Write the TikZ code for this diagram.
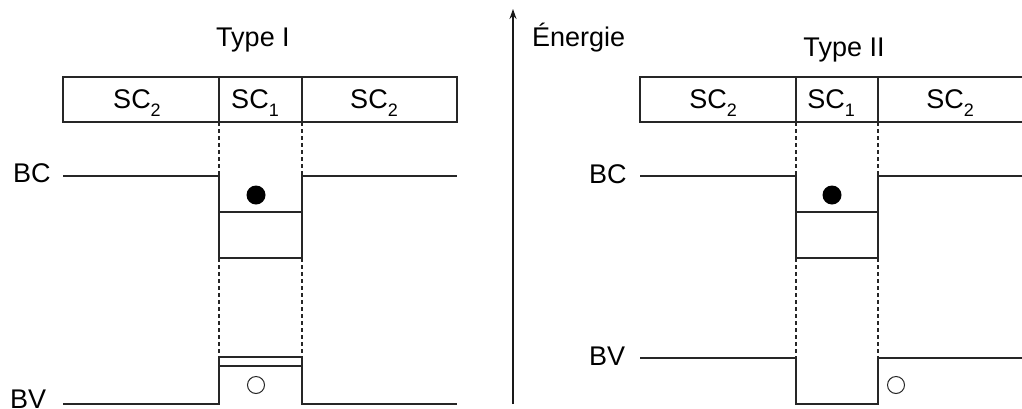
\documentclass[tikz,border=0pt]{standalone}
\usepackage{fontspec}
\setmainfont{Liberation Sans}
\usetikzlibrary{arrows.meta}
\newcommand{\mysub}[1]{\raisebox{-0.3em}{\fontsize{18}{18}\selectfont #1}}
\begin{document}
\begin{tikzpicture}[x=1pt,y=-1pt,
  band/.style={line width=1.5pt, line join=miter, draw=black!85},
  guide/.style={line width=1.1pt, dash pattern=on 4pt off 3pt, draw=black!85},
  lbl/.style={font=\fontsize{27}{32}\selectfont, inner sep=0pt, anchor=base west},
  sclbl/.style={font=\fontsize{27}{32}\selectfont, inner sep=0pt, anchor=base},
  ttl/.style={font=\fontsize{27}{32}\selectfont, inner sep=0pt, anchor=base},
  hole/.style={line width=1pt, draw=black!85}]
\useasboundingbox (0,0) rectangle (1022,408);
\clip (0,0) rectangle (1022,408);
\fill[white] (0,0) rectangle (1022,408);

% ---------- Type I ----------
\node[ttl] (t1) at (253,46) {Type I};
\draw[band] (63,77) rectangle (457,122);
\draw[band] (219,77) -- (219,122) (302,77) -- (302,122);
\node[sclbl] (a1) at (137,108) {SC\mysub{2}};
\node[sclbl] (a2) at (255,108) {SC\mysub{1}};
\node[sclbl] (a3) at (374,108) {SC\mysub{2}};
\node[lbl] (bc1) at (13,182) {BC};
\node[lbl] (bv1) at (10,408) {BV};
\draw[band] (63,176) -- (219,176) -- (219,258) -- (302,258) -- (302,176) -- (457,176);
\draw[band] (219,212) -- (302,212);
\draw[guide] (219,122) -- (219,176) (302,122) -- (302,176)
             (219,258) -- (219,357) (302,258) -- (302,357);
\draw[band] (63,404) -- (219,404) -- (219,357) -- (302,357) -- (302,404) -- (457,404);
\draw[band] (219,366) -- (302,366);
\fill (256,195) circle (9.5pt);
\draw[hole] (256,385) circle (8.5pt);

% ---------- energy axis ----------
\coordinate (e0) at (513,404);
\coordinate (e1) at (513,9);
\draw[line width=1.3pt, draw=black!90, -{Stealth[length=10pt,width=7pt]}] (e0) -- (e1);
\node[lbl] (en) at (532,46) {Énergie};

% ---------- Type II ----------
\node[ttl] (t2) at (844,56) {Type II};
\draw[band] (640,77) rectangle (1040,122);
\draw[band] (796,77) -- (796,122) (878,77) -- (878,122);
\node[sclbl] (b1) at (713,108) {SC\mysub{2}};
\node[sclbl] (b2) at (831,108) {SC\mysub{1}};
\node[sclbl] (b3) at (950,108) {SC\mysub{2}};
\node[lbl] (bc2) at (589,183) {BC};
\node[lbl] (bv2) at (589,365) {BV};
\draw[band] (640,176) -- (796,176) -- (796,258) -- (878,258) -- (878,176) -- (1030,176);
\draw[band] (796,212) -- (878,212);
\draw[guide] (796,122) -- (796,176) (878,122) -- (878,176)
             (796,258) -- (796,358) (878,258) -- (878,358);
\draw[band] (640,358) -- (796,358) -- (796,404) -- (878,404) -- (878,358) -- (1030,358);
\fill (832,195) circle (9.5pt);
\draw[hole] (896,385) circle (8.5pt);
\end{tikzpicture}
\end{document}
